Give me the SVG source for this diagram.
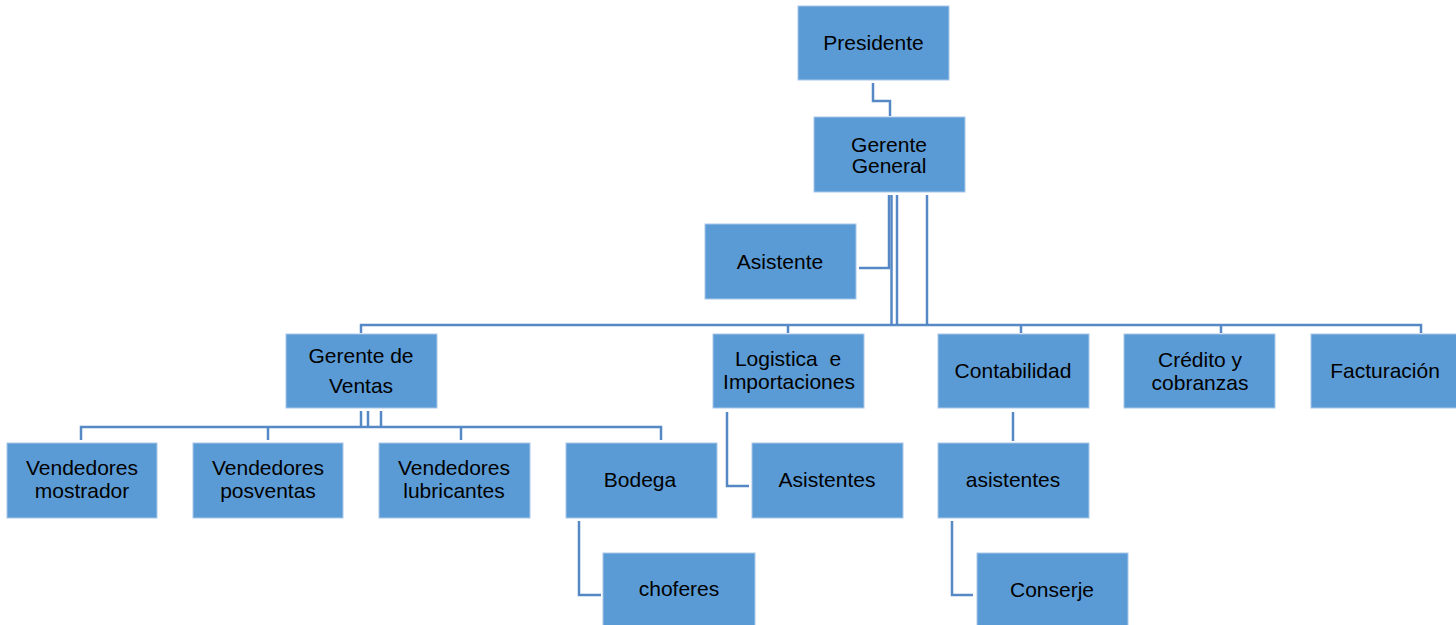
<svg xmlns="http://www.w3.org/2000/svg" width="1456" height="625" viewBox="0 0 1456 625">
<style>
.box{fill:#5B9BD5;stroke:#A9C8EA;stroke-width:1}
.t{font-family:"Liberation Sans",Arial,sans-serif;font-size:21px;fill:#000;text-anchor:middle}
.c{fill:none;stroke:#5588C4;stroke-width:2.5}
</style>
<rect width="1456" height="625" fill="#fff"/>
<g id="connectors">
<path class="c" d="M873,83 V101 H890 V116"/>
<path class="c" d="M889,195 V268 H859"/>
<path class="c" d="M891.5,195 V325"/>
<path class="c" d="M897,195 V325"/>
<path class="c" d="M927,195 V325"/>
<path class="c" d="M361,333 V325 H1421 V333"/>
<path class="c" d="M788,325 V333"/>
<path class="c" d="M1021,325 V333"/>
<path class="c" d="M1221,325 V333"/>
<path class="c" d="M361,411 V427"/>
<path class="c" d="M368,411 V427"/>
<path class="c" d="M381,411 V427"/>
<path class="c" d="M81,440 V427 H661 V440"/>
<path class="c" d="M268,427 V440"/>
<path class="c" d="M461,427 V440"/>
<path class="c" d="M727,412 V486 H749"/>
<path class="c" d="M1013,412 V441"/>
<path class="c" d="M952,521 V595 H973"/>
<path class="c" d="M579,521 V595 H601"/>
</g>
<g id="presidente"><rect class="box" x="798" y="6" width="151" height="74"/><text class="t" x="873.5" y="50">Presidente</text></g>
<g id="gerente-general"><rect class="box" x="814" y="117" width="151" height="75"/><text class="t" x="889" y="152">Gerente</text><text class="t" x="889" y="173">General</text></g>
<g id="asistente"><rect class="box" x="705" y="224" width="151" height="75"/><text class="t" x="780" y="269">Asistente</text></g>
<g id="gerente-ventas"><rect class="box" x="286" y="334" width="151" height="74"/><text class="t" x="361" y="363">Gerente de</text><text class="t" x="361" y="393">Ventas</text></g>
<g id="logistica"><rect class="box" x="713" y="334" width="151" height="74"/><text class="t" x="788" y="366" xml:space="preserve">Logistica  e</text><text class="t" x="789" y="389">Importaciones</text></g>
<g id="contabilidad"><rect class="box" x="938" y="334" width="151" height="74"/><text class="t" x="1013" y="378">Contabilidad</text></g>
<g id="credito"><rect class="box" x="1124" y="334" width="151" height="74"/><text class="t" x="1200" y="367">Crédito y</text><text class="t" x="1200" y="390">cobranzas</text></g>
<g id="facturacion"><rect class="box" x="1311" y="334" width="146" height="74"/><text class="t" x="1385" y="378">Facturación</text></g>
<g id="vend-mostrador"><rect class="box" x="7" y="443" width="150" height="75"/><text class="t" x="82" y="475">Vendedores</text><text class="t" x="82" y="498">mostrador</text></g>
<g id="vend-posventas"><rect class="box" x="193" y="443" width="150" height="75"/><text class="t" x="268" y="475">Vendedores</text><text class="t" x="268" y="498">posventas</text></g>
<g id="vend-lubricantes"><rect class="box" x="379" y="443" width="151" height="75"/><text class="t" x="454" y="475">Vendedores</text><text class="t" x="454" y="498">lubricantes</text></g>
<g id="bodega"><rect class="box" x="566" y="443" width="151" height="75"/><text class="t" x="640" y="487">Bodega</text></g>
<g id="asistentes-log"><rect class="box" x="752" y="443" width="151" height="75"/><text class="t" x="827" y="487">Asistentes</text></g>
<g id="asistentes-cont"><rect class="box" x="938" y="443" width="151" height="75"/><text class="t" x="1013" y="487">asistentes</text></g>
<g id="choferes"><rect class="box" x="603" y="553" width="152" height="75"/><text class="t" x="679" y="596">choferes</text></g>
<g id="conserje"><rect class="box" x="977" y="553" width="151" height="75"/><text class="t" x="1052" y="597">Conserje</text></g>
</svg>
